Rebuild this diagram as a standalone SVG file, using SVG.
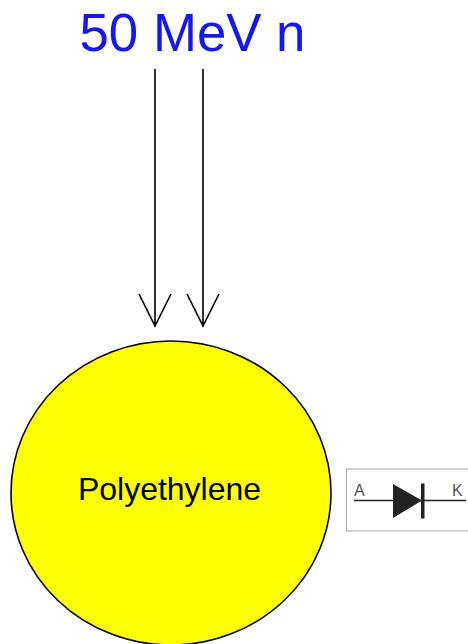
<svg xmlns="http://www.w3.org/2000/svg" width="468" height="644" viewBox="0 0 468 644">
<style>
text{font-family:"Liberation Sans",Arial,sans-serif}
.a{fill:none;stroke:#000;stroke-width:1.6}
.d{font-size:16px;fill:#555}
</style>
<rect width="468" height="644" fill="#fff"/>
<g id="title"><text x="192.500" y="51" font-size="52.800" fill="#1414ff" text-anchor="middle">50 MeV n</text></g>
<g id="connectors">
<path class="a" d="M155 69V326M139 294L155 326L171 294"/>
<path class="a" d="M203 69V326M187 294L203 326L219 294"/>
</g>
<g id="polyethylene">
<ellipse cx="171" cy="493" rx="160" ry="152" fill="#ff0" stroke="#000" stroke-width="1.600"/>
<text x="169.500" y="500" font-size="32" text-anchor="middle">Polyethylene</text>
</g>
<g id="diode">
<path d="M468 469H346.500V531H468" fill="#fff" stroke="#aaa"/>
<path d="M354 500.500H466" stroke="#222" stroke-width="1.500" fill="none"/>
<path d="M393 484L422 500.500L393 518Z" fill="#222"/>
<rect x="421" y="483.500" width="3.500" height="35" fill="#222"/>
<text class="d" x="354" y="496">A</text>
<text class="d" x="452" y="496">K</text>
</g>
</svg>
